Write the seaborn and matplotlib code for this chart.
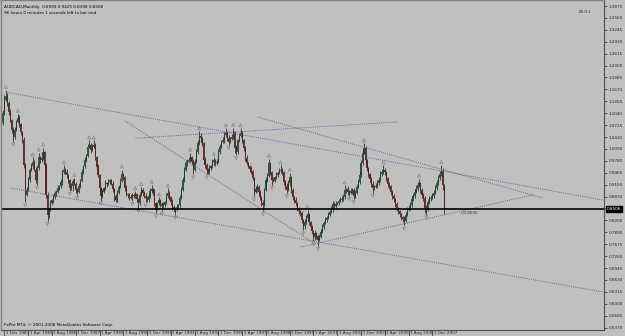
import numpy as np
import pandas as pd
import matplotlib
matplotlib.use("Agg")
import matplotlib.pyplot as plt
import matplotlib.font_manager as fm
import seaborn as sns

# ---------------- data (AUDCAD monthly) ----------------
open_first = 1.070
close = [
    1.078, 1.104, 1.139, 1.150, 1.131, 1.107, 1.086, 1.060, 1.041, 1.060,
    1.081, 1.091, 1.075, 1.054, 1.033, 0.967, 0.888, 0.901, 0.927, 0.954,
    0.964, 0.975, 0.954, 0.927, 0.959, 0.988, 0.980, 0.985, 1.001, 0.967,
    0.888, 0.835, 0.848, 0.866, 0.874, 0.882, 0.893, 0.896, 0.906, 0.911,
    0.922, 0.948, 0.954, 0.948, 0.940, 0.927, 0.906, 0.911, 0.925, 0.917,
    0.901, 0.896, 0.911, 0.925, 0.948, 0.964, 0.980, 0.991, 1.015, 1.020,
    1.007, 1.015, 1.020, 0.988, 0.962, 0.940, 0.906, 0.885, 0.896, 0.906,
    0.919, 0.917, 0.922, 0.927, 0.917, 0.903, 0.885, 0.874, 0.893, 0.909,
    0.925, 0.943, 0.935, 0.906, 0.890, 0.888, 0.882, 0.880, 0.888, 0.885,
    0.890, 0.877, 0.866, 0.888, 0.901, 0.893, 0.885, 0.880, 0.874, 0.885,
    0.898, 0.903, 0.896, 0.866, 0.851, 0.866, 0.874, 0.864, 0.858, 0.861,
    0.869, 0.885, 0.893, 0.882, 0.869, 0.856, 0.851, 0.848, 0.856, 0.861,
    0.880, 0.901, 0.927, 0.954, 0.972, 0.978, 0.980, 0.988, 0.975, 0.954,
    0.975, 1.001, 1.025, 1.044, 1.038, 1.025, 0.980, 0.967, 0.954, 0.948,
    0.959, 0.964, 0.975, 0.980, 0.972, 0.975, 1.001, 1.015, 1.028, 1.033,
    1.046, 1.052, 1.038, 1.028, 1.036, 1.041, 1.054, 1.012, 1.001, 1.033,
    1.044, 1.052, 1.033, 1.012, 0.985, 0.972, 0.964, 0.956, 0.951, 0.932,
    0.896, 0.903, 0.909, 0.896, 0.882, 0.866, 0.861, 0.901, 0.927, 0.938,
    0.972, 0.948, 0.927, 0.925, 0.935, 0.940, 0.946, 0.951, 0.954, 0.948,
    0.922, 0.911, 0.901, 0.919, 0.935, 0.901, 0.882, 0.874, 0.866, 0.853,
    0.845, 0.840, 0.821, 0.806, 0.816, 0.827, 0.837, 0.816, 0.803, 0.792,
    0.777, 0.787, 0.779, 0.769, 0.777, 0.790, 0.803, 0.814, 0.821, 0.827,
    0.835, 0.843, 0.851, 0.864, 0.858, 0.864, 0.866, 0.872, 0.874, 0.877,
    0.882, 0.901, 0.903, 0.896, 0.893, 0.898, 0.901, 0.885, 0.893, 0.909,
    0.922, 0.940, 0.972, 0.999, 1.012, 0.980, 0.959, 0.943, 0.930, 0.917,
    0.906, 0.909, 0.911, 0.919, 0.927, 0.943, 0.948, 0.954, 0.948, 0.932,
    0.917, 0.911, 0.896, 0.885, 0.877, 0.864, 0.853, 0.845, 0.837, 0.829,
    0.824, 0.819, 0.835, 0.848, 0.853, 0.861, 0.877, 0.885, 0.896, 0.903,
    0.914, 0.919, 0.901, 0.888, 0.880, 0.853, 0.848, 0.869, 0.877, 0.880,
    0.885, 0.893, 0.906, 0.919, 0.932, 0.943, 0.951, 0.914, 0.8506,
]
upper_wick = [
    1, 2, 3, 4, 2, 1, 2, 1, 2, 2, 1, 3, 2, 1, 1, 2, 1, 2, 2, 1,
    2, 3, 1, 2, 2, 3, 1, 1, 3, 1, 1, 2, 1, 2, 1, 2, 1, 1, 2, 1,
    2, 2, 3, 1, 2, 1, 1, 2, 1, 2, 1, 1, 2, 1, 2, 1, 2, 1, 2, 3,
    1, 2, 3, 1, 1, 2, 1, 1, 2, 1, 2, 1, 2, 1, 1, 2, 1, 1, 2, 1,
    2, 3, 1, 1, 2, 1, 1, 2, 1, 1, 2, 1, 1, 2, 2, 1, 1, 2, 1, 1,
    2, 3, 1, 2, 1, 1, 2, 1, 1, 2, 1, 2, 3, 1, 1, 2, 1, 1, 2, 1,
    2, 2, 2, 2, 2, 1, 2, 3, 1, 2, 2, 2, 2, 3, 2, 1, 1, 2, 1, 1,
    2, 1, 2, 2, 1, 2, 2, 2, 1, 2, 2, 3, 1, 2, 1, 2, 3, 1, 2, 1,
    2, 3, 1, 1, 1, 2, 1, 1, 2, 1, 1, 2, 2, 1, 1, 1, 2, 1, 2, 2,
    3, 1, 1, 2, 1, 2, 1, 2, 3, 1, 1, 1, 2, 2, 3, 1, 1, 1, 2, 1,
    1, 1, 1, 1, 2, 2, 3, 1, 1, 1, 1, 2, 1, 1, 2, 2, 2, 1, 2, 1,
    2, 1, 2, 2, 1, 2, 1, 1, 2, 2, 2, 3, 1, 2, 1, 2, 1, 1, 2, 2,
    2, 2, 2, 2, 3, 1, 1, 1, 1, 1, 2, 1, 2, 2, 2, 2, 2, 3, 1, 1,
    1, 1, 1, 1, 1, 1, 1, 1, 1, 1, 1, 2, 2, 2, 2, 2, 2, 2, 2, 3,
    2, 3, 1, 1, 1, 1, 2, 2, 2, 2, 2, 2, 2, 2, 2, 2, 4, 2, 1,
]
lower_wick = [
    2, 1, 1, 1, 2, 2, 1, 2, 3, 1, 1, 1, 2, 2, 2, 2, 5, 1, 1, 1,
    1, 2, 1, 2, 3, 1, 2, 1, 1, 2, 2, 4, 2, 1, 1, 2, 1, 2, 1, 1,
    1, 2, 1, 1, 2, 2, 2, 1, 3, 1, 2, 2, 1, 1, 1, 1, 1, 1, 1, 1,
    2, 1, 1, 2, 1, 1, 2, 3, 1, 1, 1, 2, 1, 1, 1, 2, 3, 1, 1, 1,
    1, 1, 2, 2, 1, 2, 2, 1, 2, 1, 1, 2, 3, 1, 1, 2, 1, 3, 1, 1,
    1, 1, 2, 2, 3, 1, 1, 2, 3, 1, 1, 1, 1, 2, 2, 2, 2, 3, 1, 1,
    1, 1, 1, 1, 1, 2, 1, 1, 2, 3, 1, 1, 1, 1, 2, 2, 2, 2, 3, 1,
    1, 1, 1, 2, 2, 1, 1, 1, 1, 1, 2, 1, 2, 2, 1, 1, 1, 3, 2, 1,
    1, 1, 2, 2, 2, 1, 1, 2, 2, 1, 3, 1, 2, 2, 2, 2, 4, 1, 1, 1,
    1, 2, 3, 1, 1, 1, 1, 1, 1, 2, 2, 2, 2, 1, 2, 2, 2, 2, 2, 2,
    2, 2, 2, 3, 2, 1, 2, 2, 2, 2, 3, 2, 2, 4, 1, 1, 1, 1, 1, 1,
    1, 1, 1, 2, 1, 2, 1, 1, 1, 1, 1, 1, 2, 2, 2, 1, 2, 2, 1, 1,
    1, 1, 1, 1, 1, 2, 2, 2, 2, 2, 3, 1, 1, 1, 1, 1, 1, 1, 2, 2,
    2, 2, 2, 2, 2, 2, 2, 2, 2, 2, 2, 3, 1, 1, 1, 1, 1, 1, 1, 1,
    1, 1, 2, 2, 2, 3, 3, 1, 1, 1, 1, 1, 1, 1, 1, 1, 1, 3, 3,
]
wick_unit = 0.004

# time axis labels (bar index counted from Oct 1983)
date_tick_bars = [2, 18, 34, 50, 66, 82, 98, 114, 130, 146, 162, 178, 194, 210, 226, 242, 258, 274, 290]
date_tick_labels = ["1 Dec 1983", "1 Apr 1985", "1 Aug 1986", "1 Dec 1987", "1 Apr 1989",
                    "1 Aug 1990", "1 Dec 1991", "1 Apr 1993", "1 Aug 1994", "1 Dec 1995",
                    "1 Apr 1997", "1 Aug 1998", "1 Dec 1999", "1 Apr 2001", "1 Aug 2002",
                    "1 Dec 2003", "1 Apr 2005", "1 Aug 2006", "1 Dec 2007"]
price_ticks = [1.3875, 1.3560, 1.3245, 1.2930, 1.2615, 1.2300, 1.1985, 1.1670, 1.1355,
               1.1040, 1.0725, 1.0410, 1.0095, 0.9780, 0.9465, 0.9150, 0.8835, 0.8520,
               0.8205, 0.7890, 0.7575, 0.7260, 0.6945, 0.6630, 0.6315, 0.6000, 0.5685,
               0.5370]
last_price = 0.8506

# trendlines: (bar0, price0) -> (bar1, price1)
trend_bar0 = [2.7, 172.3, 83.4, 90.2, 6.1, 201.2]
trend_p0 = [1.160, 1.094, 1.083, 1.038, 0.906, 0.750]
trend_bar1 = [405.1, 364.1, 210.0, 266.5, 405.1, 358.0]
trend_p1 = [0.874, 0.880, 0.761, 1.081, 0.631, 0.888]

# ---------------- build frame ----------------
n = min(len(close), len(upper_wick), len(lower_wick))
df = pd.DataFrame({"close": close[:n], "up": upper_wick[:n], "dn": lower_wick[:n]})
df["bar"] = np.arange(n)
df["open"] = [open_first] + list(df["close"].iloc[:-1])
df["high"] = np.maximum(df["open"], df["close"]) + df["up"] * wick_unit
df["low"] = np.minimum(df["open"], df["close"]) - df["dn"] * wick_unit

# Bill Williams fractals
hi = df["high"].values
lo = df["low"].values
fr_up, fr_dn = [], []
for i in range(2, n - 2):
    if hi[i] > max(hi[i-2], hi[i-1], hi[i+1], hi[i+2]):
        fr_up.append(i)
    if lo[i] < min(lo[i-2], lo[i-1], lo[i+1], lo[i+2]):
        fr_dn.append(i)
frac_up = pd.DataFrame({"bar": fr_up, "y": hi[fr_up] + 0.008})
frac_dn = pd.DataFrame({"bar": fr_dn, "y": lo[fr_dn] - 0.008})

# ---------------- draw ----------------
sns.set_theme(style="white")
names = {f.name for f in fm.fontManager.ttflist}
narrow = "Liberation Sans Narrow" in names
plt.rcParams["font.family"] = (["Liberation Sans Narrow", "DejaVu Sans"] if narrow
                               else ["DejaVu Sans"])
FS = 3.7 if narrow else 3.0

BG = "#c0c0c0"
fig = plt.figure(figsize=(6.25, 3.36), dpi=100)
fig.patch.set_facecolor(BG)
ax = fig.add_axes([1 / 625, 6 / 336, 603 / 625, 330 / 336])
ax.set_facecolor(BG)

bull = df["close"] >= df["open"]
ax.vlines(df["bar"], df["low"], df["high"], colors=np.where(bull, "#203a28", "#4a2020"), lw=0.6)
body_b = np.abs(df["close"] - df["open"]).clip(lower=0.0015)
ax.bar(df["bar"], body_b, bottom=np.minimum(df["open"], df["close"]), width=0.75,
       color=np.where(bull, "#2f5a3c", "#6a2a2a"), linewidth=0)

sns.scatterplot(data=frac_up, x="bar", y="y", marker="^", s=5, facecolor="none",
                edgecolor="#858585", linewidth=0.5, ax=ax, legend=False)
sns.scatterplot(data=frac_dn, x="bar", y="y", marker="v", s=5, facecolor="none",
                edgecolor="#858585", linewidth=0.5, ax=ax, legend=False)

for b0, p0, b1, p1 in zip(trend_bar0, trend_p0, trend_bar1, trend_p1):
    ax.plot([b0, b1], [p0, p1], ls=(0, (1, 1.2)), color="#6464a0", lw=0.7)

ax.axhline(last_price, color="black", lw=1.2)

ax.set_xlim(-0.3, 405.5)
ax.set_ylim(0.5305, 1.4035)

# right price axis
ax.yaxis.tick_right()
ax.set_yticks(price_ticks)
ax.set_yticklabels([f"{v:.4f}" for v in price_ticks])
ax.tick_params(axis="y", which="both", length=2, width=0.5, pad=1.2, labelsize=FS,
               colors="#202020", right=True, left=False)

# bottom time axis: tick separators and left-aligned labels
ax.set_xticks(date_tick_bars)
ax.set_xticklabels([])
ax.tick_params(axis="x", which="both", length=5, width=0.5, colors="#303030",
               bottom=True, direction="out")
xtr = ax.get_xaxis_transform()
for b, lab in zip(date_tick_bars, date_tick_labels):
    ax.text(b + 1.0, -3.2 / 330, lab, transform=xtr, ha="left", va="center",
            fontsize=FS, color="#202020", clip_on=False)

ax.set_xlabel("")
ax.set_ylabel("")
for side in ["top", "left"]:
    ax.spines[side].set_color("#808080")
    ax.spines[side].set_linewidth(1)
for side in ["right", "bottom"]:
    ax.spines[side].set_color("#505050")
    ax.spines[side].set_linewidth(0.8)

# current price marker on the axis
ax.text(1.0 + 3 / 603, last_price, f"{last_price:.4f}", transform=ax.get_yaxis_transform(),
        ha="left", va="center", fontsize=FS, color="white",
        bbox=dict(boxstyle="square,pad=0.15", fc="black", ec="black"))

# texts
fig.text(4 / 625, 1 - 7 / 336, "AUDCAD,Monthly  0.8999 0.9425 0.8398 0.8506", fontsize=FS,
         color="black", va="center")
fig.text(4 / 625, 1 - 13 / 336, "96 hours 0 minutes 1 seconds left to bar end", fontsize=FS,
         color="black", va="center")
fig.text(4 / 625, 1 - 325 / 336, "FxPro MT4, \u00a9 2001-2008 MetaQuotes Software Corp.",
         fontsize=FS, color="black", va="center")
ax.text(308, last_price - 0.003, "\u25c1 0.8506", fontsize=FS, color="#303030", va="top", ha="left")
fig.text(592 / 625, 1 - 12 / 336, "80.0.1", fontsize=FS, color="#303030", va="center", ha="right")

fig.savefig("out.png", dpi=100, facecolor=BG)
